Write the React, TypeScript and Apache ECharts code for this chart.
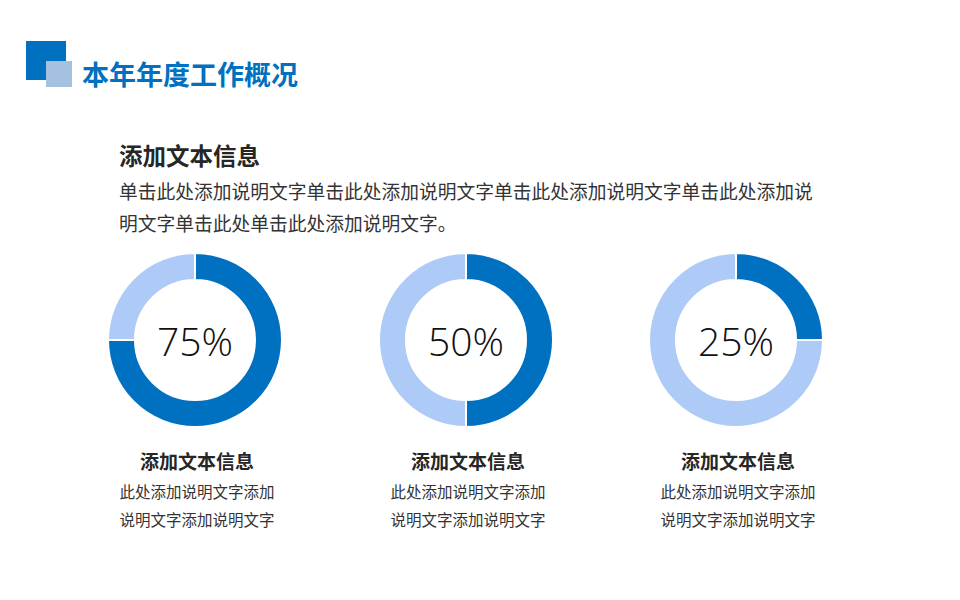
import React, { useEffect, useRef } from "react";
import * as echarts from "echarts";

const headerTitle = "本年年度工作概况";
const introTitle = "添加文本信息";
const introLines = [
  "单击此处添加说明文字单击此处添加说明文字单击此处添加说明文字单击此处添加说",
  "明文字单击此处单击此处添加说明文字。",
];
const completed = [75, 50, 25];
const remaining = [25, 50, 75];
const itemTitles = ["添加文本信息", "添加文本信息", "添加文本信息"];
const itemLine1 = ["此处添加说明文字添加", "此处添加说明文字添加", "此处添加说明文字添加"];
const itemLine2 = ["说明文字添加说明文字", "说明文字添加说明文字", "说明文字添加说明文字"];

const centersX = [195, 466, 736];
const DARK = "#0070C0";
const LIGHT = "#AECBF7";
const FONT = "'Noto Sans CJK SC', 'Noto Sans', sans-serif";

export default function App() {
  const ref = useRef<HTMLDivElement>(null);
  useEffect(() => {
    if (!ref.current) return;
    const chart = echarts.init(ref.current, null, { renderer: "svg" });
    const series = completed.map((v, i) => ({
      type: "pie",
      center: [centersX[i], 340],
      radius: [60, 87],
      startAngle: 90,
      clockwise: true,
      silent: true,
      labelLine: { show: false },
      itemStyle: { borderColor: "#fff", borderWidth: 2 },
      data: [
        {
          value: v,
          itemStyle: { color: DARK },
          label: {
            show: true,
            position: "center",
            formatter: v + "%",
            fontSize: 39,
            fontWeight: 300,
            color: "#111",
            padding: [6, 0, 0, 0],
            fontFamily: "'Open Sans', 'Noto Sans', sans-serif",
          },
        },
        { value: remaining[i], itemStyle: { color: LIGHT }, label: { show: false } },
      ],
    }));
    const graphics: any[] = [
      { type: "rect", shape: { x: 26, y: 41, width: 40, height: 39 }, style: { fill: DARK } },
      { type: "rect", shape: { x: 46, y: 61, width: 26, height: 26 }, style: { fill: "#A4C2E0" } },
      {
        type: "text",
        x: 82,
        y: 73,
        style: { text: headerTitle, fontSize: 27, fontWeight: "bold", fill: DARK, fontFamily: FONT, verticalAlign: "middle" },
      },
      {
        type: "text",
        x: 119,
        y: 155,
        style: { text: introTitle, fontSize: 23.5, fontWeight: "bold", fill: "#262626", fontFamily: FONT, verticalAlign: "middle" },
      },
      ...introLines.map((t, k) => ({
        type: "text",
        x: 119,
        y: 190 + k * 32,
        style: { text: t, fontSize: 18.75, fill: "#333", fontFamily: FONT, verticalAlign: "middle" },
      })),
    ];
    centersX.forEach((cx, i) => {
      graphics.push({
        type: "text",
        x: cx + 2,
        y: 460,
        style: { text: itemTitles[i], fontSize: 19, fontWeight: "bold", fill: "#262626", fontFamily: FONT, align: "center", verticalAlign: "middle" },
      });
      graphics.push({
        type: "text",
        x: cx + 2,
        y: 491,
        style: { text: itemLine1[i], fontSize: 15.5, fill: "#333", fontFamily: FONT, align: "center", verticalAlign: "middle" },
      });
      graphics.push({
        type: "text",
        x: cx + 2,
        y: 519,
        style: { text: itemLine2[i], fontSize: 15.5, fill: "#333", fontFamily: FONT, align: "center", verticalAlign: "middle" },
      });
    });
    chart.setOption({
      animation: false,
      backgroundColor: "#fff",
      series,
      graphic: graphics,
    });
    return () => chart.dispose();
  }, []);
  return (
    <div
      ref={ref}
      style={{ position: "fixed", left: 0, top: 0, width: 960, height: 600 }}
    />
  );
}
